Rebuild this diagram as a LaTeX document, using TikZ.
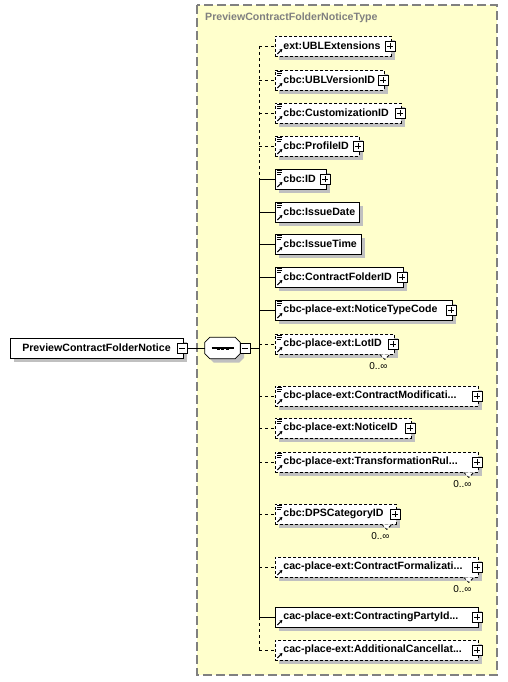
\documentclass[tikz,border=0pt]{standalone}
\usepackage{fontspec}
\setmainfont{Liberation Sans}
\usetikzlibrary{calc}
\usetikzlibrary{arrows.meta}
\usetikzlibrary{shadows}

\definecolor{typebg}{RGB}{255,255,204}
\definecolor{typeline}{RGB}{128,128,128}
\definecolor{shade}{RGB}{192,192,192}

\newcommand\elemfont{\fontsize{10.6}{12}\selectfont\bfseries}
\newcommand\multfont{\fontsize{10}{12}\selectfont}
\newcommand\refarrow{\draw[solid, line width=1pt, -{Stealth[length=3pt,width=3.5pt]}] ([shift={(2pt,2pt)}]path picture bounding box.south west) -- ++(5pt,5pt);}
\newcommand\docmark{\draw[solid, line width=0.7pt] ([shift={(1.5pt,-1.2pt)}]path picture bounding box.north west) -- ++(5pt,0pt) ([shift={(1.5pt,-3.4pt)}]path picture bounding box.north west) -- ++(5pt,0pt) ([shift={(1.5pt,-5.6pt)}]path picture bounding box.north west) -- ++(4pt,0pt);}

\tikzset{
  shadowed/.style={drop shadow={shadow xshift=4pt, shadow yshift=-4pt, fill=shade, opacity=1}},
  elem/.style={draw, fill=white, line width=0.8pt, inner sep=0pt, minimum height=20pt, text width=#1pt, align=left, anchor=west, font=\elemfont, execute at begin node={\hspace*{8pt}}, shadowed, path picture={\refarrow}},
  docu/.style={path picture={\refarrow\docmark}},
  opt/.style={dash pattern=on 3pt off 2pt},
  rootbox/.style={draw, fill=white, line width=0.8pt, inner sep=0pt, minimum width=173pt, minimum height=20pt, font=\elemfont, shadowed},
  seqbox/.style={inner sep=0pt, minimum width=35pt, minimum height=21pt},
  expand/.style={draw, fill=white, solid, line width=0.8pt, minimum size=10pt, inner sep=0pt, path picture={\draw[solid] ([xshift=2pt]path picture bounding box.west) -- ([xshift=-2pt]path picture bounding box.east) ([yshift=2pt]path picture bounding box.south) -- ([yshift=-2pt]path picture bounding box.north);}},
  collapse/.style={draw, fill=white, solid, line width=0.8pt, minimum size=10pt, inner sep=0pt, path picture={\draw[solid] ([xshift=2pt]path picture bounding box.west) -- ([xshift=-2pt]path picture bounding box.east);}},
  link/.style={line width=0.8pt},
  optlink/.style={link, dash pattern=on 3pt off 3pt},
  notch/.style={line width=0.8pt, fill=white},
  mult/.style={anchor=north east, inner sep=0pt, font=\multfont}
}

\begin{document}
\begin{tikzpicture}[x=1pt, y=-1pt]
\useasboundingbox (0,0) rectangle (507,682);
\filldraw[fill=typebg, draw=typeline, line width=1.5pt, dash pattern=on 9pt off 4pt] (197,5) rectangle (497,675);
\node[anchor=west, text=typeline, font=\elemfont, inner sep=0pt] (title) at (205,18) {PreviewContractFolderNoticeType};

\node[rootbox] (root) at (96.5,348) {PreviewContractFolderNotice};
\node[collapse] (rootm) at ([xshift=-1pt]root.east) {};
\node[seqbox] (seq) at (222.5,348) {};
\filldraw[link, fill=white, shadowed] ([xshift=5pt]seq.north west) -- ([xshift=-5pt]seq.north east) -- ([yshift=-5pt]seq.north east) -- ([yshift=5pt]seq.south east) -- ([xshift=-5pt]seq.south east) -- ([xshift=5pt]seq.south west) -- ([yshift=5pt]seq.south west) -- ([yshift=-5pt]seq.north west) -- cycle;
\node[collapse] (seqm) at ([xshift=5pt]seq.east) {};
\coordinate (bus) at (259,348);
\draw[line width=1.2pt] ([xshift=-11pt]seq.center) -- ([xshift=11pt]seq.center);
\fill ([xshift=-4.5pt]seq.center) ++(-1.5pt,-1.5pt) rectangle ++(3pt,3pt);
\fill (seq.center) ++(-1.5pt,-1.5pt) rectangle ++(3pt,3pt);
\fill ([xshift=4.5pt]seq.center) ++(-1.5pt,-1.5pt) rectangle ++(3pt,3pt);

\node[elem=116, opt] (c1) at (275,46) {ext:UBLExtensions};
\node[elem=109, opt, docu] (c2) at (275,80) {cbc:UBLVersionID};
\node[elem=126, opt, docu] (c3) at (275,113) {cbc:CustomizationID};
\node[elem=84, opt, docu] (c4) at (275,146) {cbc:ProfileID};
\node[elem=51, docu] (c5) at (275,179) {cbc:ID};
\node[elem=84, docu] (c6) at (275,212) {cbc:IssueDate};
\node[elem=86, docu] (c7) at (275,244) {cbc:IssueTime};
\node[elem=128, docu] (c8) at (275,277) {cbc:ContractFolderID};
\node[elem=177, docu] (c9) at (275,310) {cbc-place-ext:NoticeTypeCode};
\node[elem=119, opt, docu] (c10) at (275,344) {cbc-place-ext:LotID};
\node[elem=203, opt, docu] (c11) at (275,396) {cbc-place-ext:ContractModificati...};
\node[elem=136, opt, docu] (c12) at (275,428) {cbc-place-ext:NoticeID};
\node[elem=203, opt, docu] (c13) at (275,462) {cbc-place-ext:TransformationRul...};
\node[elem=121, opt, docu] (c14) at (275,514) {cbc:DPSCategoryID};
\node[elem=203, opt] (c15) at (275,567) {cac-place-ext:ContractFormalizati...};
\node[elem=203] (c16) at (275,617) {cac-place-ext:ContractingPartyId...};
\node[elem=203, opt] (c17) at (275,650) {cac-place-ext:AdditionalCancellat...};

\node[expand] (c1x) at ([xshift=-1.5pt]c1.east) {};
\node[expand] (c2x) at ([xshift=-1.5pt]c2.east) {};
\node[expand] (c3x) at ([xshift=-1.5pt]c3.east) {};
\node[expand] (c4x) at ([xshift=-1.5pt]c4.east) {};
\node[expand] (c5x) at ([xshift=-1.5pt]c5.east) {};
\node[expand] (c8x) at ([xshift=-1.5pt]c8.east) {};
\node[expand] (c9x) at ([xshift=-1.5pt]c9.east) {};
\node[expand] (c10x) at ([xshift=-1.5pt]c10.east) {};
\node[expand] (c11x) at ([xshift=-1.5pt]c11.east) {};
\node[expand] (c12x) at ([xshift=-1.5pt]c12.east) {};
\node[expand] (c13x) at ([xshift=-1.5pt]c13.east) {};
\node[expand] (c14x) at ([xshift=-1.5pt]c14.east) {};
\node[expand] (c15x) at ([xshift=-1.5pt]c15.east) {};
\node[expand] (c16x) at ([xshift=-1.5pt]c16.east) {};
\node[expand] (c17x) at ([xshift=-1.5pt]c17.east) {};

\draw[notch, opt] ([xshift=-15pt]c10.south east) -- ++(5pt,-5pt) -- ++(5pt,5pt);
\draw[notch, opt] ([xshift=-15pt]c13.south east) -- ++(5pt,-5pt) -- ++(5pt,5pt);
\draw[notch, opt] ([xshift=-15pt]c14.south east) -- ++(5pt,-5pt) -- ++(5pt,5pt);
\draw[notch, opt] ([xshift=-15pt]c15.south east) -- ++(5pt,-5pt) -- ++(5pt,5pt);
\node[mult] (c10n) at ([shift={(-7pt,-8pt)}]c10.south east) {0..∞};
\node[mult] (c13n) at ([shift={(-7pt,-8pt)}]c13.south east) {0..∞};
\node[mult] (c14n) at ([shift={(-7pt,-8pt)}]c14.south east) {0..∞};
\node[mult] (c15n) at ([shift={(-7pt,-8pt)}]c15.south east) {0..∞};

\draw[link] (rootm.east) -- (seq.west);
\draw[link] (seqm.east) -- (bus);
\draw[optlink] (bus |- c1.west) -- (bus |- c5.west);
\draw[link] (bus |- c5.west) -- (bus |- c16.west);
\draw[optlink] (bus |- c16.west) -- (bus |- c17.west);
\draw[optlink] (bus |- c1.west) -- (c1.west);
\draw[optlink] (bus |- c2.west) -- (c2.west);
\draw[optlink] (bus |- c3.west) -- (c3.west);
\draw[optlink] (bus |- c4.west) -- (c4.west);
\draw[link] (bus |- c5.west) -- (c5.west);
\draw[link] (bus |- c6.west) -- (c6.west);
\draw[link] (bus |- c7.west) -- (c7.west);
\draw[link] (bus |- c8.west) -- (c8.west);
\draw[link] (bus |- c9.west) -- (c9.west);
\draw[optlink] (bus |- c10.west) -- (c10.west);
\draw[optlink] (bus |- c11.west) -- (c11.west);
\draw[optlink] (bus |- c12.west) -- (c12.west);
\draw[optlink] (bus |- c13.west) -- (c13.west);
\draw[optlink] (bus |- c14.west) -- (c14.west);
\draw[optlink] (bus |- c15.west) -- (c15.west);
\draw[link] (bus |- c16.west) -- (c16.west);
\draw[optlink] (bus |- c17.west) -- (c17.west);
\end{tikzpicture}
\end{document}
